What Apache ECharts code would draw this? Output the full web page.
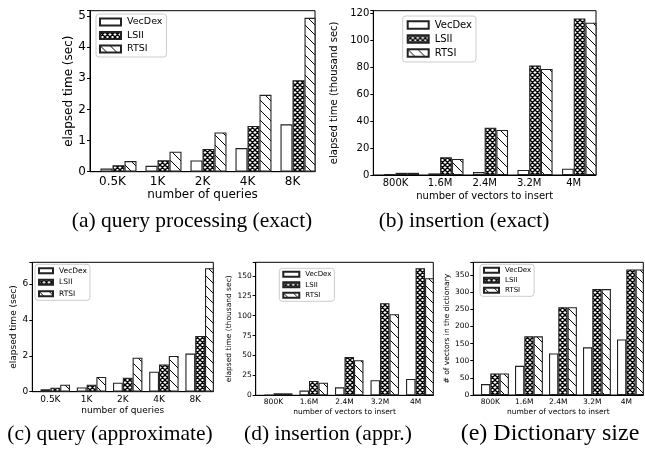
<!DOCTYPE html>
<html><head><meta charset="utf-8">
<script src="https://cdn.jsdelivr.net/npm/echarts@6/dist/echarts.min.js"></script>
<style>html,body{margin:0;padding:0;background:#fff}#c{width:645px;height:449px}</style>
</head><body><div id="c"></div>
<script>
// ---------- data ----------
const queryCats = ['0.5K', '1K', '2K', '4K', '8K'];
const insertCats = ['800K', '1.6M', '2.4M', '3.2M', '4M'];
const seriesNames = ['VecDex', 'LSII', 'RTSI'];
// (a) query processing (exact), sec
const aVecDex = [0.10, 0.19, 0.36, 0.76, 1.52];
const aLSII   = [0.21, 0.37, 0.73, 1.47, 2.94];
const aRTSI   = [0.34, 0.64, 1.26, 2.47, 4.94];
// (b) insertion (exact), thousand sec
const bVecDex = [0.5, 1.2, 2.2, 3.7, 4.7];
const bLSII   = [1.6, 13.1, 35.1, 81.4, 116.3];
const bRTSI   = [1.6, 11.9, 33.4, 78.7, 113.1];
// (c) query (approximate), sec
const cVecDex = [0.13, 0.24, 0.50, 1.11, 2.12];
const cLSII   = [0.22, 0.39, 0.78, 1.52, 3.10];
const cRTSI   = [0.39, 0.82, 1.89, 1.99, 6.87];
// (d) insertion (appr.), thousand sec
const dVecDex = [0.8, 5.9, 10.0, 18.9, 20.5];
const dLSII   = [2.5, 18.0, 48.2, 115.6, 159.6];
const dRTSI   = [2.5, 15.9, 44.0, 101.8, 147.0];
// (e) dictionary size
const eVecDex = [32, 85, 121, 139, 162];
const eLSII   = [63, 171, 256, 309, 366];
const eRTSI   = [63, 171, 256, 309, 366];
// text
const yNames = ['elapsed time (sec)', 'elapsed time (thousand sec)', 'elapsed time (sec)', 'elapsed time (thousand sec)', '# of vectors in the dictionary'];
const xNames = ['number of queries', 'number of vectors to insert', 'number of queries', 'number of vectors to insert', 'number of vectors to insert'];
const captions = ['(a) query processing (exact)', '(b) insertion (exact)', '(c) query (approximate)', '(d) insertion (appr.)', '(e) Dictionary size'];

// ---------- layout ----------
const panels = [
  {cats: queryCats,  data: [aVecDex, aLSII, aRTSI], grid: {left: 90,    top: 10.7,  width: 225,   height: 161},   ymax: 5.17, yint: 1,  font: 12,  xMargin: 4,   xGap: 17,  yGap: 13,  barW: 12,
   leg: {left: 96, top: 14, w: 21, h: 7, gap: 3.5, font: 9.5, pad: [3, 4, 3, 3]}, cap: [192, 221, 21.5]},
  {cats: insertCats, data: [bVecDex, bLSII, bRTSI], grid: {left: 373.3, top: 10.7,  width: 222.7, height: 164.3}, ymax: 122,  yint: 20, font: 10,  xMargin: 3,   xGap: 16,  yGap: 34,  barW: 11.7,
   leg: {left: 402.7, top: 16, w: 21, h: 7.3, gap: 4, font: 10, pad: [4, 4, 4, 4]}, cap: [464, 221, 21.5]},
  {cats: queryCats,  data: [cVecDex, cLSII, cRTSI], grid: {left: 32.3,  top: 262.3, width: 181,   height: 129.4}, ymax: 7.2,  yint: 2,  font: 9,   xMargin: 3,   xGap: 14.5, yGap: 14, barW: 9.8,
   leg: {left: 35, top: 264.3, w: 14, h: 5, gap: 3.5, font: 7.5, pad: [2.5, 3, 2.5, 3]}, cap: [110, 434, 21.5]},
  {cats: insertCats, data: [dVecDex, dLSII, dRTSI], grid: {left: 255.7, top: 262.3, width: 177.6, height: 133},   ymax: 167,  yint: 25, font: 7.5, xMargin: 2.7, xGap: 12.6, yGap: 22, barW: 9.5,
   leg: {left: 279.3, top: 268.3, w: 16, h: 5, gap: 3.5, font: 7, pad: [2.5, 3, 2.5, 3]}, cap: [328, 434, 21.5]},
  {cats: insertCats, data: [eVecDex, eLSII, eRTSI], grid: {left: 473.3, top: 262.3, width: 170,   height: 132.7}, ymax: 387,  yint: 50, font: 7.5, xMargin: 3,   xGap: 13,  yGap: 20,  barW: 9.3,
   leg: {left: 480, top: 264.3, w: 15, h: 5, gap: 3, font: 7, pad: [2.5, 3, 2.5, 3]}, cap: [550, 433.5, 24]}
];

// ---------- hatch patterns ----------
function makePattern(kind) {
  const s = kind === 'cross' ? 5 : 10;
  const c = document.createElement('canvas');
  c.width = s; c.height = s;
  const g = c.getContext('2d');
  g.fillStyle = '#fff'; g.fillRect(0, 0, s, s);
  g.strokeStyle = '#000';
  g.lineWidth = kind === 'cross' ? 1.4 : 1;
  g.beginPath();
  for (const k of [-s, 0, s]) { g.moveTo(k, 0); g.lineTo(k + s, s); }
  if (kind === 'cross') for (const k of [-s, 0, s]) { g.moveTo(k, s); g.lineTo(k + s, 0); }
  g.stroke();
  return c;
}
const fills = ['#ffffff', {image: makePattern('cross'), repeat: 'repeat'}, {image: makePattern('back'), repeat: 'repeat'}];

const FONT = 'DejaVu Sans';
const option = {
  animation: false,
  textStyle: {fontFamily: FONT, color: '#000'},
  grid: [], xAxis: [], yAxis: [], series: [], legend: [], graphic: []
};

panels.forEach((p, i) => {
  option.grid.push(Object.assign({show: true, borderColor: '#000', borderWidth: 1, backgroundColor: '#fff', containLabel: false, outerBoundsMode: 'none'}, p.grid));
  option.xAxis.push({
    type: 'category', gridIndex: i, data: p.cats,
    name: xNames[i], nameLocation: 'middle', nameGap: p.xGap,
    nameTextStyle: {fontSize: p.font, color: '#000', fontFamily: FONT},
    axisLine: {lineStyle: {color: '#000', width: 1}},
    axisTick: {alignWithLabel: true, length: 3, lineStyle: {color: '#000'}},
    axisLabel: {interval: 0, fontSize: p.font, color: '#000', margin: p.xMargin, fontFamily: FONT},
    splitLine: {show: false}
  });
  option.yAxis.push({
    type: 'value', gridIndex: i, min: 0, max: p.ymax, interval: p.yint,
    name: yNames[i], nameLocation: 'middle', nameGap: p.yGap,
    nameTextStyle: {fontSize: p.font, color: '#000', fontFamily: FONT},
    axisLine: {show: true, lineStyle: {color: '#000', width: 1}},
    axisTick: {show: true, length: 3, lineStyle: {color: '#000'}},
    axisLabel: {fontSize: p.font, color: '#000', margin: 4, fontFamily: FONT,
      formatter: v => (Math.abs(v / p.yint - Math.round(v / p.yint)) < 1e-9 ? String(v) : '')},
    splitLine: {show: false}
  });
  // spacer so that the category tick sits between VecDex and LSII
  option.series.push({
    type: 'bar', name: '_pad', xAxisIndex: i, yAxisIndex: i, barWidth: p.barW, barGap: '0%',
    data: p.cats.map(() => null), silent: true
  });
  seriesNames.forEach((n, k) => {
    option.series.push({
      type: 'bar', name: n, xAxisIndex: i, yAxisIndex: i, barWidth: p.barW, barGap: '0%',
      data: p.data[k],
      itemStyle: {color: fills[k], borderColor: '#222', borderWidth: 1.1},
      emphasis: {disabled: true}
    });
  });
  const L = p.leg;
  option.legend.push({
    data: seriesNames, orient: 'vertical', left: L.left, top: L.top,
    itemWidth: L.w, itemHeight: L.h, itemGap: L.gap, icon: 'rect',
    padding: L.pad, borderColor: '#cccccc', borderWidth: 1, borderRadius: 3,
    backgroundColor: '#fff', selectedMode: false,
    textStyle: {fontSize: L.font, color: '#000', fontFamily: FONT, padding: [0, 0, 0, 1]}
  });
  option.graphic.push({
    type: 'text', x: p.cap[0], y: p.cap[1],
    style: {text: captions[i], fontSize: p.cap[2], fontFamily: 'Liberation Serif', fill: '#000', align: 'center', verticalAlign: 'middle'}
  });
});

const chart = echarts.init(document.getElementById('c'), null, {renderer: 'canvas'});
chart.setOption(option);
</script>
</body></html>
